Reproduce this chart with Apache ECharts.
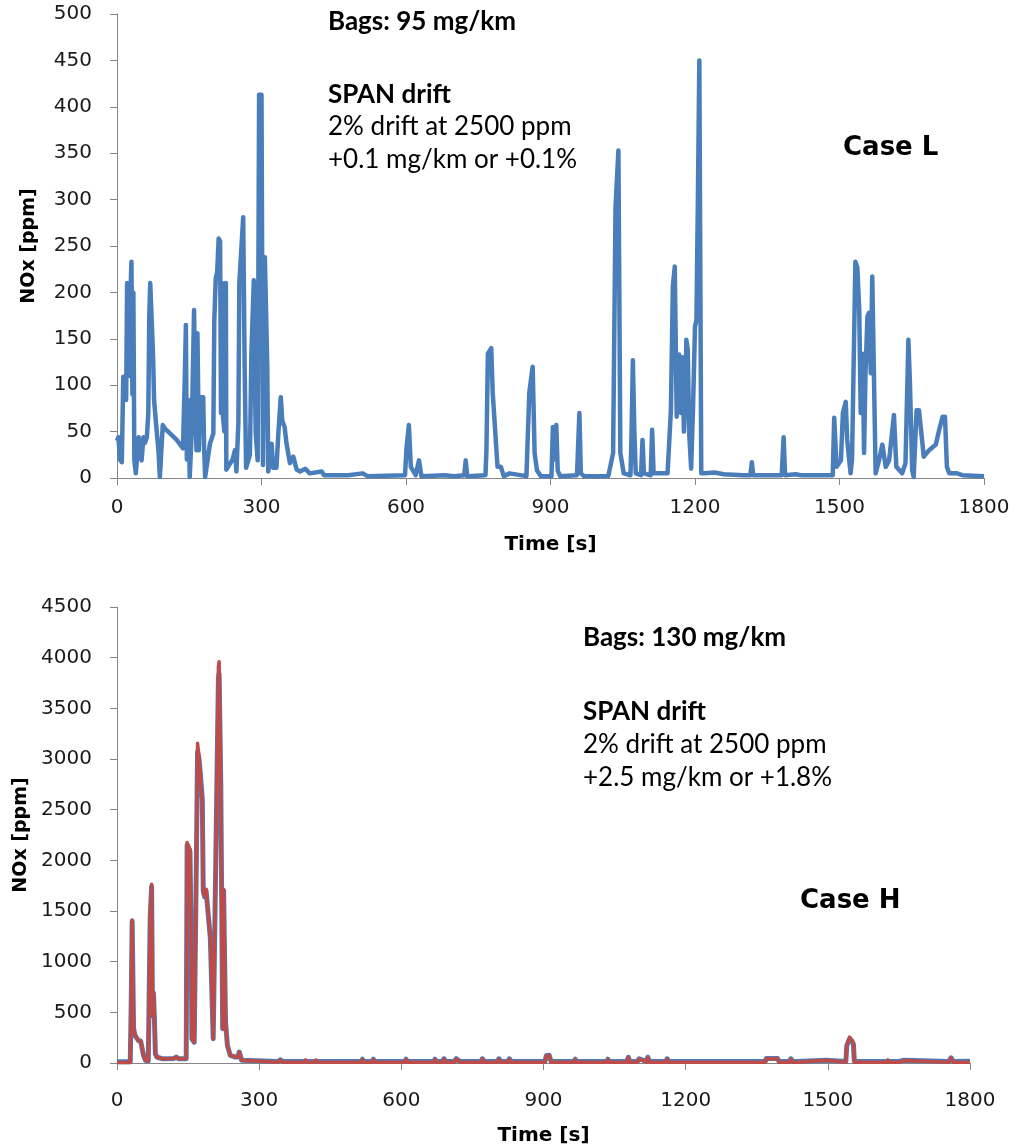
<!DOCTYPE html>
<html>
<head>
<meta charset="utf-8">
<script src="https://cdn.jsdelivr.net/npm/echarts@6/dist/echarts.min.js"></script>
<style>
html,body{margin:0;padding:0;background:#fff;}
#chart{width:1017px;height:1147px;}
</style>
</head>
<body>
<div id="chart"></div>
<script>
// ---- data ----
const timeTicks = [0, 300, 600, 900, 1200, 1500, 1800];
const yTicksTop = [0, 50, 100, 150, 200, 250, 300, 350, 400, 450, 500];
const yTicksBottom = [0, 500, 1000, 1500, 2000, 2500, 3000, 3500, 4000, 4500];

// Case L: [time s, NOx ppm]
const caseL = [
[0,40],[3,44],[6,20],[10,17],[13,109],[16,108],[19,84],[21,210],[24,205],[26,110],[28,200],[30,233],[32,90],[34,200],[36,19],[39,5],[42,5],[45,44],[48,44],[51,19],[55,44],[58,38],[62,44],[65,70],[67,175],[69,210],[73,211],[75,130],[77,84],[81,59],[86,30],[89,1],[92,1],[95,57],[100,53],[110,48],[124,41],[137,32],[141,113],[143,165],[145,20],[148,84],[151,1],[155,48],[158,127],[160,181],[162,100],[165,30],[167,156],[170,30],[173,87],[179,87],[181,30],[183,1],[186,0],[193,37],[200,48],[202,170],[205,215],[208,222],[211,258],[214,255],[216,70],[218,210],[220,66],[223,50],[226,210],[227,9],[234,15],[240,20],[245,30],[248,7],[252,60],[254,210],[262,281],[265,120],[268,11],[276,25],[279,134],[284,213],[286,120],[288,48],[292,19],[295,413],[300,413],[303,14],[307,238],[310,238],[312,120],[314,7],[321,37],[324,11],[331,11],[335,48],[340,87],[343,62],[348,55],[352,37],[359,16],[366,23],[373,9],[380,7],[391,10],[400,5],[425,7],[430,3],[480,3],[510,5],[520,2],[598,3],[601,32],[606,57],[610,12],[620,3],[627,19],[632,2],[680,3],[700,2],[721,3],[724,19],[727,2],[765,3],[767,30],[770,134],[777,140],[780,92],[786,44],[790,12],[797,12],[803,2],[815,5],[850,2],[856,92],[863,120],[867,27],[872,8],[880,2],[902,2],[905,55],[908,20],[912,57],[915,8],[920,2],[955,3],[957,30],[960,70],[963,5],[970,2],[1020,2],[1024,12],[1030,27],[1035,292],[1041,353],[1045,27],[1052,5],[1066,3],[1068,40],[1071,127],[1074,52],[1077,5],[1088,3],[1091,41],[1094,5],[1108,3],[1111,52],[1114,5],[1143,5],[1150,73],[1154,206],[1158,228],[1162,66],[1165,100],[1167,133],[1171,70],[1174,130],[1177,50],[1180,90],[1182,149],[1185,138],[1188,48],[1192,10],[1196,77],[1200,163],[1203,170],[1206,300],[1209,450],[1213,5],[1220,5],[1240,6],[1260,4],[1300,3],[1315,3],[1318,17],[1321,3],[1380,3],[1384,44],[1387,3],[1409,4],[1420,3],[1486,3],[1489,65],[1494,12],[1503,19],[1507,70],[1513,82],[1516,41],[1523,5],[1526,20],[1533,233],[1537,227],[1541,181],[1544,70],[1548,134],[1551,27],[1554,113],[1558,174],[1561,178],[1565,113],[1568,217],[1572,215],[1575,5],[1582,19],[1589,36],[1596,12],[1603,19],[1613,68],[1618,12],[1630,5],[1637,16],[1643,149],[1646,106],[1651,8],[1654,1],[1660,73],[1665,73],[1675,23],[1686,30],[1700,36],[1707,52],[1714,66],[1719,66],[1723,12],[1728,5],[1744,5],[1755,3],[1800,2]
];

// Case H, reference trace (blue)
const caseHBlue = [
[0,12],[28,12],[30,600],[32,1400],[34,1390],[35,340],[38,272],[45,222],[50,215],[53,205],[56,75],[60,27],[66,20],[70,1430],[73,1740],[75,468],[77,690],[79,430],[81,92],[84,59],[95,42],[120,45],[125,59],[130,42],[146,42],[148,2150],[151,2150],[154,2090],[157,1000],[158,239],[163,205],[167,1800],[170,3070],[173,3000],[176,2850],[180,2600],[182,1700],[185,1640],[188,1700],[192,1700],[197,1230],[203,239],[207,239],[210,2500],[214,3800],[215.5,3840],[219,2750],[223,337],[225,1700],[229,403],[233,173],[239,75],[250,59],[255,59],[258,108],[263,27],[266,15],[340,15],[345,32],[350,15],[395,15],[398,32],[402,15],[418,15],[420,32],[424,15],[515,15],[518,37],[521,15],[538,15],[541,37],[544,15],[607,15],[610,37],[613,15],[668,15],[671,37],[674,15],[687,15],[690,42],[694,15],[712,15],[716,42],[720,32],[724,15],[768,15],[771,42],[775,15],[803,15],[806,42],[810,15],[825,15],[828,42],[832,15],[903,15],[906,72],[912,77],[916,15],[964,15],[967,37],[970,15],[1033,15],[1036,37],[1039,15],[1076,15],[1079,57],[1082,15],[1098,15],[1102,42],[1106,32],[1117,15],[1120,57],[1124,15],[1158,15],[1161,42],[1164,15],[1325,15],[1328,22],[1331,15],[1368,15],[1370,44],[1394,44],[1397,15],[1419,15],[1422,42],[1426,15],[1434,15],[1436,28],[1497,28],[1500,15],[1538,15],[1540,170],[1546,240],[1551,215],[1554,185],[1556,15],[1577,15],[1580,27],[1583,15],[1624,15],[1627,32],[1630,15],[1650,15],[1652,27],[1661,27],[1664,15],[1755,15],[1760,50],[1765,15],[1800,18]
];

// Case H, drifted trace (red)
const caseHRed = [
[0,5],[28,5],[30,600],[32,1410],[34,1400],[35,340],[38,272],[45,222],[50,215],[53,205],[56,75],[60,27],[66,20],[70,1450],[73,1764],[75,468],[77,698],[79,430],[81,92],[84,59],[95,42],[120,45],[125,59],[130,42],[146,42],[148,2175],[151,2175],[154,2110],[157,1000],[158,239],[163,205],[167,1800],[170,3156],[173,3025],[176,2828],[180,2565],[182,1681],[185,1648],[188,1714],[192,1714],[197,1222],[203,239],[207,239],[210,2500],[214,3910],[215.5,3959],[219,2697],[223,337],[225,1714],[229,403],[233,173],[239,75],[250,59],[255,59],[258,108],[263,27],[266,8],[340,8],[345,30],[350,8],[395,8],[398,30],[402,8],[418,8],[420,30],[424,8],[515,8],[518,35],[521,8],[538,8],[541,35],[544,8],[607,8],[610,35],[613,8],[668,8],[671,35],[674,8],[687,8],[690,40],[694,8],[712,8],[716,40],[720,30],[724,8],[768,8],[771,40],[775,8],[803,8],[806,40],[810,8],[825,8],[828,40],[832,8],[903,8],[906,70],[912,75],[916,8],[964,8],[967,35],[970,8],[1033,8],[1036,35],[1039,8],[1076,8],[1079,55],[1082,8],[1098,8],[1102,40],[1106,30],[1117,8],[1120,55],[1124,8],[1158,8],[1161,40],[1164,8],[1325,8],[1328,20],[1331,8],[1368,8],[1370,42],[1394,42],[1397,8],[1419,8],[1422,40],[1426,8],[1434,8],[1436,26],[1497,26],[1500,8],[1538,8],[1540,173],[1546,255],[1551,222],[1554,190],[1556,8],[1577,8],[1580,25],[1583,8],[1624,8],[1627,30],[1630,8],[1650,8],[1652,25],[1661,25],[1664,8],[1755,8],[1760,49],[1765,8],[1800,8]
];

const notesTop = ['Bags: 95 mg/km', 'SPAN drift', '2% drift at 2500 ppm', '+0.1 mg/km or +0.1%'];
const notesBottom = ['Bags: 130 mg/km', 'SPAN drift', '2% drift at 2500 ppm', '+2.5 mg/km or +1.8%'];

// ---- chart ----
const chart = echarts.init(document.getElementById('chart'), null, {renderer: 'canvas'});
const axisGray = '#868686';
const tickFont = {fontFamily: 'DejaVu Sans', fontSize: 20, color: '#1a1a1a'};
const plain = function (v) { return String(v); };

function xAxisDef(gridIndex, labelMargin, nameGap) {
  return {
    type: 'value', gridIndex: gridIndex, min: 0, max: 1800, interval: 300,
    name: 'Time [s]', nameLocation: 'middle', nameGap: nameGap,
    nameTextStyle: {fontFamily: 'DejaVu Sans', fontWeight: 'bold', fontSize: 20, color: '#000'},
    axisLine: {show: true, lineStyle: {color: axisGray, width: 1}},
    axisTick: {show: true, length: 7, lineStyle: {color: axisGray}},
    axisLabel: Object.assign({margin: labelMargin, formatter: plain}, tickFont),
    splitLine: {show: false}
  };
}
function yAxisDef(gridIndex, max, interval) {
  return {
    type: 'value', gridIndex: gridIndex, min: 0, max: max, interval: interval,
    name: 'NOx [ppm]', nameLocation: 'middle', nameGap: 78, nameRotate: 90,
    nameTextStyle: {fontFamily: 'DejaVu Sans', fontWeight: 'bold', fontSize: 19, color: '#000'},
    axisLine: {show: true, lineStyle: {color: axisGray, width: 1}},
    axisTick: {show: true, length: 7, lineStyle: {color: axisGray}},
    axisLabel: Object.assign({margin: 25, formatter: plain}, tickFont),
    splitLine: {show: false}
  };
}
function note(text, x, y, bold, size, family) {
  return {type: 'text', left: x, top: y, silent: true,
    style: {text: text, fontFamily: family || 'Lato', fontWeight: bold ? 'bold' : 'normal', fontSize: size || 26, fill: '#000'}};
}

chart.setOption({
  animation: false,
  grid: [
    {left: 117, top: 14, width: 867, height: 464},
    {left: 117, top: 607, width: 853, height: 457}
  ],
  xAxis: [xAxisDef(0, 20, 57), xAxisDef(1, 28, 63)],
  yAxis: [yAxisDef(0, 500, 50), yAxisDef(1, 4500, 500)],
  series: [
    {type: 'line', xAxisIndex: 0, yAxisIndex: 0, data: caseL, showSymbol: false,
     lineStyle: {color: '#4a7ebb', width: 4.5, join: 'round'}, z: 2},
    {type: 'line', xAxisIndex: 1, yAxisIndex: 1, data: caseHBlue, showSymbol: false,
     lineStyle: {color: '#4a7ebb', width: 5, join: 'round'}, z: 2},
    {type: 'line', xAxisIndex: 1, yAxisIndex: 1, data: caseHRed, showSymbol: false,
     lineStyle: {color: '#be4b48', width: 3.5, join: 'round'}, z: 3}
  ],
  graphic: [
    note(notesTop[0], 328, 9, true),
    note(notesTop[1], 328, 82, true),
    note(notesTop[2], 328, 114, false),
    note(notesTop[3], 328, 147, false),
    note('Case L', 843, 135, true, 26, 'DejaVu Sans'),
    note(notesBottom[0], 583, 625, true),
    note(notesBottom[1], 583, 699, true),
    note(notesBottom[2], 583, 732, false),
    note(notesBottom[3], 583, 765, false),
    note('Case H', 800, 888, true, 26, 'DejaVu Sans')
  ]
});
</script>
</body>
</html>
